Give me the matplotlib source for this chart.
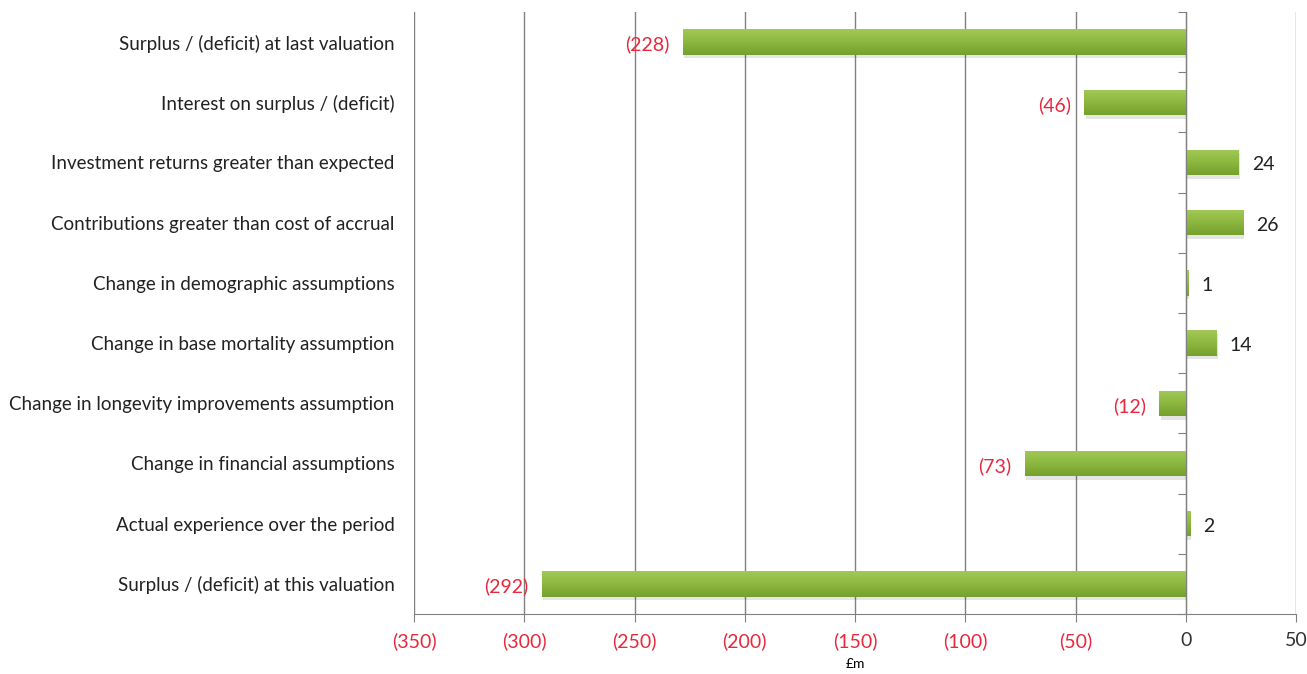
import matplotlib.pyplot as plt
import numpy as np
from matplotlib.colors import LinearSegmentedColormap

categories = [
    "Surplus / (deficit) at last valuation",
    "Interest on surplus / (deficit)",
    "Investment returns greater than expected",
    "Contributions greater than cost of accrual",
    "Change in demographic assumptions",
    "Change in base mortality assumption",
    "Change in longevity improvements assumption",
    "Change in financial assumptions",
    "Actual experience over the period",
    "Surplus / (deficit) at this valuation",
]
values = [-228, -46, 24, 26, 1, 14, -12, -73, 2, -292]
xticks = [-350, -300, -250, -200, -150, -100, -50, 0, 50]

RED = "#E8283C"
GREY = "#808080"
plt.rcParams['font.family'] = ['Lato', 'DejaVu Sans']


def fmt(v):
    return f"({abs(v)})" if v < 0 else f"{v}"


fig = plt.figure(figsize=(13.07, 6.74), dpi=100)
ax = fig.add_axes([414 / 1307, 60 / 674, 882 / 1307, 602 / 674])

y = np.arange(len(categories))
ax.set_xlim(-350, 50)
ax.set_ylim(len(categories) - 0.5, -0.5)

# gradient fill for each bar
green = LinearSegmentedColormap.from_list("g", ["#A2C957", "#8CB840", "#74A02C"])
grad = np.linspace(0, 1, 64).reshape(-1, 1)
bars = ax.barh(y, values, height=0.42, color="none", zorder=3)
for b in bars:
    x0, y0 = b.get_x(), b.get_y()
    w, h = b.get_width(), b.get_height()
    # soft shadow
    ax.add_patch(plt.Rectangle((x0 + 0.6, y0 + 0.06), w, h, color="#000000",
                               alpha=0.10, lw=0, zorder=2))
    im = ax.imshow(grad, cmap=green, aspect="auto", zorder=3,
                   extent=(x0, x0 + w, y0 + h, y0))
    im.set_clip_path(b)
ax.set_xlim(-350, 50)
ax.set_ylim(len(categories) - 0.5, -0.5)

for yi, v in zip(y, values):
    if v < 0:
        ax.text(v - 6, yi + 0.04, fmt(v), ha="right", va="center", color=RED, fontsize=14)
    else:
        ax.text(v + 6, yi + 0.04, fmt(v), ha="left", va="center", color="#222222", fontsize=14)

ax.set_yticks(y)
ax.set_yticklabels(categories, fontsize=13.5, color="#222222")
ax.tick_params(axis="y", length=0, pad=14)

ax.set_xticks(xticks)
ax.set_xticklabels([fmt(t) for t in xticks], fontsize=14)
for lab, t in zip(ax.get_xticklabels(), xticks):
    lab.set_color(RED if t < 0 else "#333333")
ax.tick_params(axis="x", length=6, color=GREY, pad=7)
ax.grid(axis="x", color=GREY, lw=1, zorder=0)
ax.set_axisbelow(True)
ax.set_xlabel("£m", fontsize=10, labelpad=6)

for s in ["top", "right", "left"]:
    ax.spines[s].set_visible(False)
ax.spines["bottom"].set_color(GREY)

# vertical axis at zero with category separators
ax2 = ax.twinx()
ax2.set_ylim(len(categories) - 0.5, -0.5)
ax2.set_yticks(np.arange(len(categories) + 1) - 0.5)
ax2.set_yticklabels([])
ax2.yaxis.set_ticks_position("left")
ax2.spines["left"].set_position(("data", 0))
ax2.spines["left"].set_color(GREY)
for s in ["top", "right", "bottom"]:
    ax2.spines[s].set_visible(False)
ax2.tick_params(axis="y", length=6, color=GREY)

fig.savefig("out.png", dpi=100)
